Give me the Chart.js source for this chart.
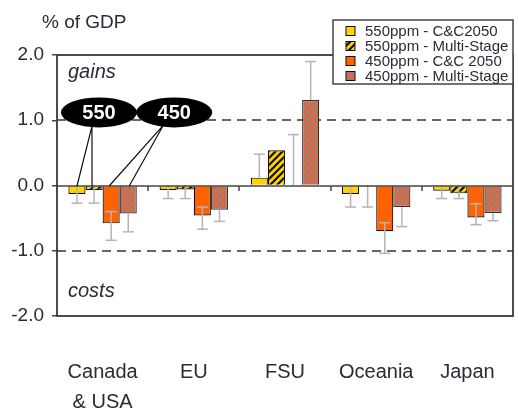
<!DOCTYPE html>
<html><head><meta charset="utf-8">
<script src="https://cdn.jsdelivr.net/npm/chart.js@4.4.1/dist/chart.umd.min.js"></script>
<style>html,body{margin:0;padding:0;background:#fff;}canvas{display:block;}</style>
</head><body>
<canvas id="c" width="518" height="410"></canvas>
<script>
// ---- data ----
const categories = [["Canada", "& USA"], "EU", "FSU", "Oceania", "Japan"];
const seriesLabels = ["550ppm - C&C2050", "550ppm - Multi-Stage", "450ppm - C&C 2050", "450ppm - Multi-Stage"];
const v550cc = [-0.13, -0.07, 0.12, -0.13, -0.08];
const v550ms = [-0.07, -0.06, 0.54, -0.02, -0.12];
const v450cc = [-0.58, -0.46, 0.00, -0.70, -0.49];
const v450ms = [-0.43, -0.37, 1.31, -0.33, -0.42];
// error ranges (low, high)
const e550ccLow  = [-0.27, -0.20, 0.12, -0.33, -0.20];
const e550ccHigh = [0.00, 0.00, 0.48, 0.00, 0.00];
const e550msLow  = [-0.27, -0.20, null, -0.33, -0.20];
const e550msHigh = [0.00, 0.00, null, 0.00, 0.00];
const e450ccLow  = [-0.84, -0.67, 0.00, -1.04, -0.60];
const e450ccHigh = [-0.40, -0.33, 0.78, -0.57, -0.28];
const e450msLow  = [-0.71, -0.55, 1.31, -0.63, -0.54];
const e450msHigh = [-0.43, -0.37, 1.90, -0.33, -0.42];
const yTickValues = [-2, -1, 0, 1, 2];
const yTickLabels = ["-2.0", "-1.0", "0.0", "1.0", "2.0"];
const dashedLevels = [1, -1];
const yTitle = "% of GDP";
const gainsText = "gains", costsText = "costs";
const bubbleLabels = ["550", "450"];

const FONT = '"Liberation Sans", Arial, Helvetica, sans-serif';
const TXT = '#2b2b36';

function hatch(bg, fg) {
  const s = 7, c = document.createElement('canvas');
  c.width = s; c.height = s;
  const g = c.getContext('2d');
  g.fillStyle = bg; g.fillRect(0, 0, s, s);
  g.strokeStyle = fg; g.lineWidth = 2.2;
  g.beginPath();
  g.moveTo(-1, s + 1); g.lineTo(s + 1, -1);
  g.moveTo(-1, 1); g.lineTo(1, -1);
  g.moveTo(s - 1, s + 1); g.lineTo(s + 1, s - 1);
  g.stroke();
  return document.createElement('canvas').getContext('2d').createPattern(c, 'repeat');
}
const YEL = '#FFD200', ORA = '#FF6200';
const fills = [YEL, hatch(YEL, '#111'), ORA, hatch('#F0602E', '#8a8a8a')];
const borders = ['#111', '#111', '#111', '#333'];
const values = [v550cc, v550ms, v450cc, v450ms];
const errLow = [e550ccLow, e550msLow, e450ccLow, e450msLow];
const errHigh = [e550ccHigh, e550msHigh, e450ccHigh, e450msHigh];

const decor = {
  id: 'decor',
  beforeDatasetsDraw(chart) {
    const {ctx, chartArea: a, scales: {y}} = chart;
    ctx.save();
    ctx.setLineDash([9, 6]);
    ctx.strokeStyle = '#666'; ctx.lineWidth = 2;
    dashedLevels.forEach(v => {
      const py = Math.round(y.getPixelForValue(v));
      ctx.beginPath(); ctx.moveTo(a.left, py); ctx.lineTo(a.right, py); ctx.stroke();
    });
    ctx.setLineDash([]);
    ctx.fillStyle = TXT;
    ctx.font = 'italic 20px ' + FONT;
    ctx.textBaseline = 'alphabetic'; ctx.textAlign = 'left';
    ctx.fillText(gainsText, a.left + 11, y.getPixelForValue(1.65) + 0);
    ctx.fillText(costsText, a.left + 11, y.getPixelForValue(-1.6) + 7);
    ctx.restore();
  },
  afterDatasetsDraw(chart) {
    const {ctx, chartArea: a, scales: {x, y}} = chart;
    ctx.save();
    // error bars
    ctx.strokeStyle = '#b4b4b4'; ctx.lineWidth = 1.5;
    values.forEach((vals, d) => {
      const meta = chart.getDatasetMeta(d);
      vals.forEach((v, i) => {
        const lo = errLow[d][i], hi = errHigh[d][i];
        if (lo === null || hi === null) return;
        const px = meta.data[i].x;
        const yl = y.getPixelForValue(lo), yh = y.getPixelForValue(hi);
        ctx.beginPath(); ctx.moveTo(px, yl); ctx.lineTo(px, yh); ctx.stroke();
        [lo, hi].forEach(e => {
          if (e === v || e === 0) return;
          const py = y.getPixelForValue(e);
          ctx.beginPath(); ctx.moveTo(px - 5.5, py); ctx.lineTo(px + 5.5, py); ctx.stroke();
        });
      });
    });
    // zero line & ticks
    const zy = Math.round(y.getPixelForValue(0));
    ctx.strokeStyle = '#444'; ctx.lineWidth = 1.5;
    ctx.beginPath(); ctx.moveTo(a.left, zy); ctx.lineTo(a.right, zy); ctx.stroke();
    const cw = (a.right - a.left) / categories.length;
    for (let i = 1; i < categories.length; i++) {
      const px = Math.round(a.left + i * cw);
      ctx.beginPath(); ctx.moveTo(px, zy); ctx.lineTo(px, zy + 5); ctx.stroke();
    }
    // frame
    ctx.strokeStyle = '#3a3a3a'; ctx.lineWidth = 1.8;
    ctx.strokeRect(a.left, a.top, a.right - a.left, a.bottom - a.top);
    // bubbles
    const c0 = x.getPixelForValue(0);
    const by = y.getPixelForValue(1.12);
    const rx = 38, ry = 15;
    const bx = [c0 - 0.04 * cw, c0 + 0.785 * cw];
    ctx.strokeStyle = '#111'; ctx.lineWidth = 1.2;
    const m0 = chart.getDatasetMeta(0).data[0], m1 = chart.getDatasetMeta(1).data[0];
    const m2 = chart.getDatasetMeta(2).data[0], m3 = chart.getDatasetMeta(3).data[0];
    const s0 = [bx[0] - 7, by + ry - 1], s1 = [bx[1] - 11, by + ry - 2];
    ctx.beginPath();
    ctx.moveTo(s0[0], s0[1]); ctx.lineTo(m0.x, zy);
    ctx.moveTo(s0[0], s0[1]); ctx.lineTo(m1.x - 2, zy);
    ctx.moveTo(s1[0], s1[1]); ctx.lineTo(m2.x - 2, zy);
    ctx.moveTo(s1[0], s1[1]); ctx.lineTo(m3.x + 1, zy);
    ctx.stroke();
    bx.forEach((cx, k) => {
      ctx.fillStyle = '#000';
      ctx.beginPath(); ctx.ellipse(cx, by, rx, ry, 0, 0, Math.PI * 2); ctx.fill();
      ctx.fillStyle = '#fff';
      ctx.font = 'bold 20px ' + FONT;
      ctx.textAlign = 'center'; ctx.textBaseline = 'middle';
      ctx.fillText(bubbleLabels[k], cx, by + 1);
    });
    // legend
    const lx = 333, ly = 20, lw = a.right - lx, lh = 64;
    ctx.fillStyle = '#fff';
    ctx.fillRect(lx, ly, lw, lh);
    ctx.strokeStyle = '#444'; ctx.lineWidth = 1.5;
    ctx.strokeRect(lx, ly, lw, lh);
    seriesLabels.forEach((lab, k) => {
      const ry2 = ly + 11 + k * 15;
      ctx.fillStyle = fills[k];
      ctx.fillRect(lx + 13, ry2 - 4.5, 9, 9);
      ctx.strokeStyle = '#111'; ctx.lineWidth = 1;
      ctx.strokeRect(lx + 13, ry2 - 4.5, 9, 9);
      ctx.fillStyle = TXT;
      ctx.font = '15px ' + FONT;
      ctx.textAlign = 'left'; ctx.textBaseline = 'middle';
      ctx.fillText(lab, lx + 32, ry2 + 0.5);
    });
    // title
    ctx.fillStyle = TXT;
    ctx.font = '19px ' + FONT;
    ctx.textAlign = 'left'; ctx.textBaseline = 'middle';
    ctx.fillText(yTitle, 42, 23);
    ctx.restore();
  }
};

new Chart(document.getElementById('c'), {
  type: 'bar',
  data: {
    labels: categories,
    datasets: values.map((vals, k) => ({
      label: seriesLabels[k],
      data: vals,
      backgroundColor: fills[k],
      borderColor: borders[k],
      borderWidth: 1.2,
      categoryPercentage: 0.75,
      barPercentage: 1.0
    }))
  },
  options: {
    responsive: false,
    animation: false,
    devicePixelRatio: 1,
    layout: {padding: {top: 55, right: 5, left: 0, bottom: 0}},
    plugins: {legend: {display: false}, tooltip: {enabled: false}, title: {display: false}},
    scales: {
      x: {
        grid: {display: false, drawTicks: false},
        border: {display: false},
        ticks: {
          color: TXT, padding: 41,
          font: {family: FONT, size: 20, lineHeight: 1.5},
          maxRotation: 0, autoSkip: false
        },
        afterFit(s) { s.height = 94; s.paddingLeft = 0; s.paddingRight = 0; }
      },
      y: {
        min: -2, max: 2,
        afterBuildTicks(s) { s.ticks = yTickValues.map(v => ({value: v})); },
        grid: {drawOnChartArea: false, drawTicks: true, tickLength: 5, color: '#444', lineWidth: 1.5},
        border: {display: false},
        ticks: {
          color: TXT, padding: 8,
          font: {family: FONT, size: 19},
          callback: (v) => yTickLabels[yTickValues.indexOf(v)]
        },
        afterFit(s) { s.width = 57; s.paddingTop = 0; s.paddingBottom = 0; }
      }
    }
  },
  plugins: [decor]
});
</script>
</body></html>
